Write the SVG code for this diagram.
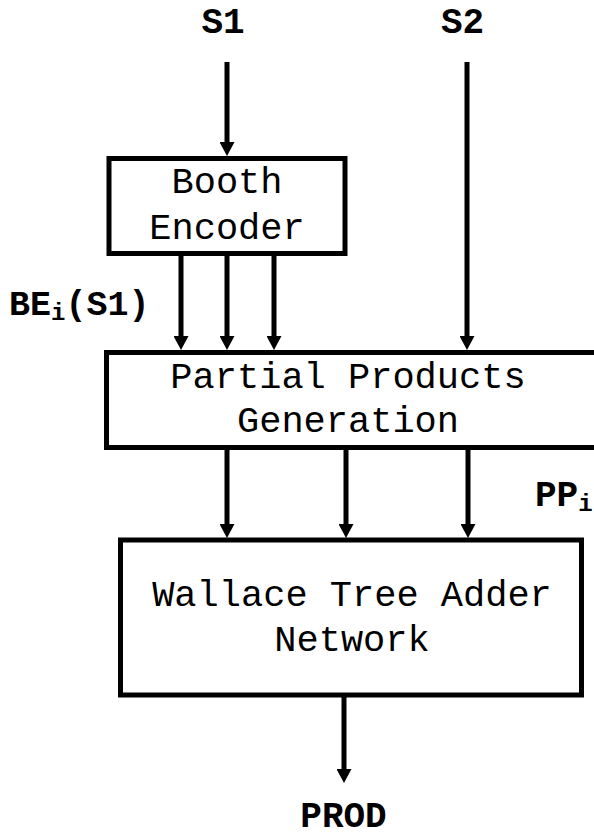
<svg xmlns="http://www.w3.org/2000/svg" width="594" height="837" viewBox="0 0 594 837">
<style>
.box{fill:#fff;stroke:#000;stroke-width:5}
.t{font-family:"Liberation Mono","Courier New",monospace;font-size:37px;fill:#000;text-anchor:middle}
.b{font-family:"Liberation Mono","Courier New",monospace;font-size:36px;font-weight:bold;fill:#000}
.s{font-size:24px}
.w{stroke:#000;stroke-width:5;fill:none;marker-end:url(#ah)}
</style>
<defs>
<marker id="ah" viewBox="0 0 14 15" refX="2" refY="7.5" markerWidth="14" markerHeight="15" markerUnits="userSpaceOnUse" orient="auto">
<path d="M0,0 L14,7.5 L0,15 z" fill="#000"/>
</marker>
</defs>
<rect width="594" height="837" fill="#fff"/>
<g id="connectors">
<line class="w" x1="227" y1="62" x2="227" y2="144"/>
<line class="w" x1="467" y1="62" x2="467" y2="338"/>
<line class="w" x1="181" y1="256" x2="181" y2="338"/>
<line class="w" x1="227" y1="256" x2="227" y2="338"/>
<line class="w" x1="274" y1="256" x2="274" y2="338"/>
<line class="w" x1="227" y1="450" x2="227" y2="526"/>
<line class="w" x1="346" y1="450" x2="346" y2="526"/>
<line class="w" x1="468" y1="450" x2="468" y2="526"/>
<line class="w" x1="344" y1="697" x2="344" y2="771"/>
</g>
<g id="booth">
<rect class="box" x="109" y="158.5" width="236" height="95"/>
<text class="t" x="227" y="193">Booth</text>
<text class="t" x="227" y="239">Encoder</text>
</g>
<g id="ppgen">
<rect class="box" x="106.5" y="352.5" width="500" height="95"/>
<text class="t" x="348" y="388">Partial Products</text>
<text class="t" x="348" y="432">Generation</text>
</g>
<g id="wallace">
<rect class="box" x="120.5" y="540" width="461" height="155"/>
<text class="t" x="352" y="606">Wallace Tree Adder</text>
<text class="t" x="352" y="651">Network</text>
</g>
<g id="labels">
<text class="b" x="223" y="33" text-anchor="middle">S1</text>
<text class="b" x="462.5" y="33" text-anchor="middle">S2</text>
<text class="b" x="9" y="315" style="font-size:35px">BE<tspan class="s" dy="5">i</tspan><tspan dy="-5">(S1)</tspan></text>
<text class="b" x="535" y="506">PP<tspan class="s" dy="5">i</tspan></text>
<text class="b" x="343.5" y="827" text-anchor="middle">PROD</text>
</g>
</svg>
